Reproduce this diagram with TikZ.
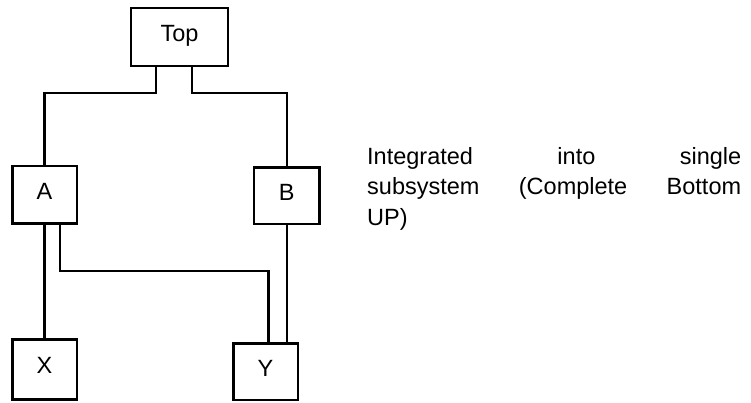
\documentclass[tikz,border=0pt]{standalone}
\usepackage{fontspec}
\setmainfont{Liberation Sans}
\begin{document}
\begin{tikzpicture}[x=1pt,y=-1pt,
  box/.style={draw=black, line width=2.4pt, inner sep=0pt,
    font=\fontsize{23.5}{28}\selectfont, text height=17pt, text depth=8pt},
  conn/.style={draw=black, line width=2.4pt}]
\useasboundingbox (0,0) rectangle (751,402);
\node[box, minimum width=97pt, minimum height=58pt] (top) at (179.5,37) {Top};
\node[box, minimum width=64.4pt, minimum height=57.6pt] (A) at (44.5,194.5) {A};
\node[box, minimum width=65.3pt, minimum height=56.7pt] (B) at (286.7,195.7) {B};
\node[box, minimum width=64.4pt, minimum height=60pt] (X) at (44.5,369.3) {X};
\node[box, minimum width=64.4pt, minimum height=56.7pt] (Y) at (265.5,371.7) {Y};
\draw[conn] ([xshift=-23.5pt]top.south) -- ++(0,26) -| (A.north);
\draw[conn] ([xshift=12.5pt]top.south) -- ++(0,26) -| (B.north);
\draw[conn] (A.south) -- (X.north);
\draw[conn] ([xshift=15.5pt]A.south) -- ++(0,46.7) -| ([xshift=3pt]Y.north);
\draw[conn] (B.south) -- (B.south |- Y.north);
\node[anchor=north west, inner sep=0pt, align=left,
  font=\fontsize{23.5}{30.3}\selectfont] (txt) at (367,147.3)
  {\makebox[374pt][s]{Integrated into single}\\
   \makebox[374pt][s]{subsystem (Complete Bottom}\\
   UP)};
\end{tikzpicture}
\end{document}
